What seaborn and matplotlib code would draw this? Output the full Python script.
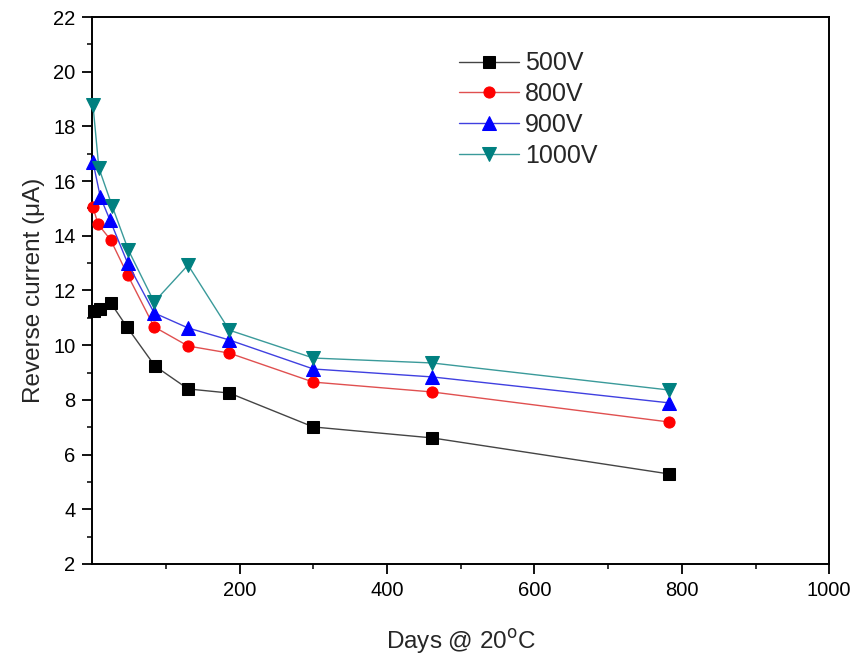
import numpy as np
import pandas as pd
import matplotlib
matplotlib.use("Agg")
import matplotlib.pyplot as plt
import seaborn as sns
from matplotlib.ticker import MultipleLocator

sns.set_style("ticks")
plt.rcParams['font.family'] = ['Liberation Sans', 'DejaVu Sans']

# values
days_500 = [3, 10, 25, 47, 85, 130, 186, 300, 461, 783]
i_500 = [11.25, 11.32, 11.55, 10.67, 9.24, 8.40, 8.25, 7.01, 6.61, 5.29]

days_800 = [1, 8, 25, 48, 84, 130, 186, 300, 461, 783]
i_800 = [15.05, 14.42, 13.85, 12.57, 10.67, 9.97, 9.71, 8.65, 8.29, 7.19]

days_900 = [1, 11, 24, 48, 84, 130, 186, 300, 461, 783]
i_900 = [16.7, 15.42, 14.58, 13.0, 11.18, 10.63, 10.19, 9.13, 8.84, 7.89]

days_1000 = [1, 9, 27, 49, 84, 130, 186, 300, 461, 783]
i_1000 = [18.78, 16.48, 15.09, 13.48, 11.58, 12.93, 10.55, 9.53, 9.35, 8.36]

labels = ["500V", "800V", "900V", "1000V"]
marker_cols = ["black", "red", "blue", "#008080"]
line_cols = ["#444444", "#e05050", "#4040e0", "#3a9a9a"]
markers = ["s", "o", "^", "v"]

series = [(days_500, i_500), (days_800, i_800), (days_900, i_900), (days_1000, i_1000)]

fig, ax = plt.subplots(figsize=(8.54, 6.55), dpi=100)
fig.subplots_adjust(left=0.108, right=0.971, top=0.974, bottom=0.139)

for (d, v), lab, mc, lc, m in zip(series, labels, marker_cols, line_cols, markers):
    df = pd.DataFrame({"days": d, "cur": v})
    sns.lineplot(data=df, x="days", y="cur", ax=ax, color=lc, lw=1,
                 marker=m, markersize=9.5 if m in "^v" else 8,
                 markerfacecolor=mc, markeredgecolor=mc, label=lab,
                 clip_on=False, zorder=3)

ax.set_xlim(0, 1000)
ax.set_ylim(2, 22)
ax.set_xticks([200, 400, 600, 800, 1000])
ax.set_xticks(np.arange(100, 1000, 200), minor=True)
ax.yaxis.set_major_locator(MultipleLocator(2))
ax.yaxis.set_minor_locator(MultipleLocator(1))
ax.tick_params(axis="both", which="major", direction="out", length=7, width=1.3,
               labelsize=14.5, colors="black", top=False, right=False, pad=5)
ax.tick_params(axis="both", which="minor", direction="out", length=3.5, width=1.3,
               top=False, right=False)
for s in ax.spines.values():
    s.set_linewidth(1.4)
    s.set_color("black")

ax.set_xlabel(r"Days @ 20$^{\mathrm{o}}$C", fontsize=17.5, labelpad=20)
ax.set_ylabel("Reverse current (μA)", fontsize=17.5, labelpad=6)

leg = ax.legend(loc="upper left", bbox_to_anchor=(0.497, 0.937), frameon=False,
                fontsize=18, handlelength=2.4, handletextpad=0.25,
                labelspacing=0.27, borderaxespad=0, borderpad=0)

plt.savefig("out.png", dpi=100)
